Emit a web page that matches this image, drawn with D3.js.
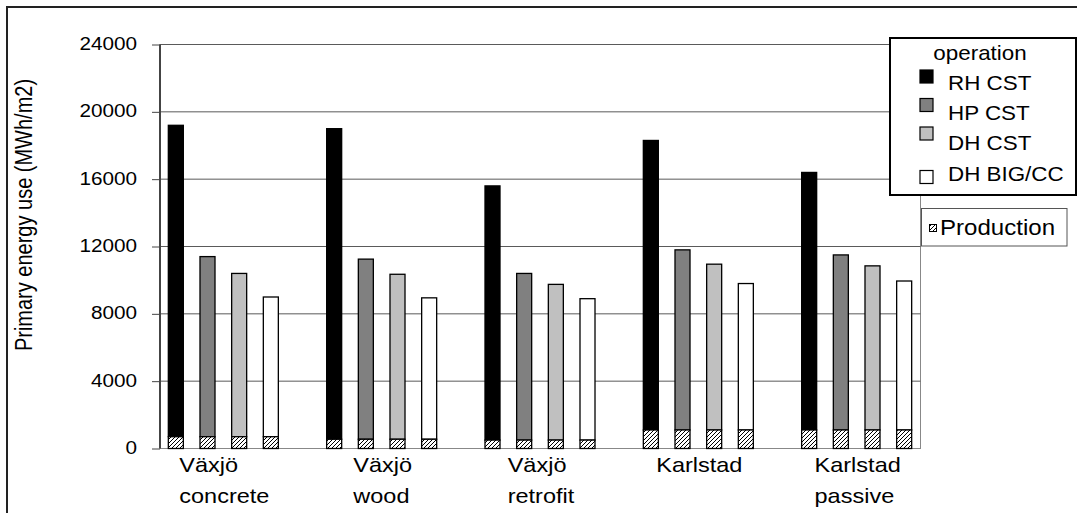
<!DOCTYPE html>
<html>
<head>
<meta charset="utf-8">
<script src="https://cdn.jsdelivr.net/npm/d3@7"></script>
<style>
  html, body { margin: 0; padding: 0; background: #fff; }
  svg { display: block; font-family: "Liberation Sans", Arial, sans-serif; }
</style>
</head>
<body>
<svg id="chart" width="1077" height="513"></svg>
<script>
// ---- data ----
const groupLabels = [["Växjö", "concrete"], ["Växjö", "wood"], ["Växjö", "retrofit"], ["Karlstad"], ["Karlstad", "passive"]];
const seriesNames = ["RH CST", "HP CST", "DH CST", "DH BIG/CC"];
const seriesColors = ["#000000", "#808080", "#c0c0c0", "#ffffff"];
const production = [700, 550, 500, 1100, 1100];
const rhCST = [18500, 18450, 15100, 17200, 15300];
const hpCST = [10700, 10700, 9900, 10700, 10400];
const dhCST = [9700, 9800, 9250, 9850, 9750];
const dhBIG = [8300, 8400, 8400, 8700, 8850];
const operation = [rhCST, hpCST, dhCST, dhBIG];
const yTicks = [0, 4000, 8000, 12000, 16000, 20000, 24000];
const yTitle = "Primary energy use (MWh/m2)";
const legendTitle = "operation";
const productionLabel = "Production";

(function () {
// ---- layout ----
const svg = d3.select("#chart");
const SX = 1.12; // horizontal stretch of glyphs seen in the reference
const pL = 160, pR = 920, pT = 44.5, pB = 448.5;

// slots: 4 bars per group + a gap slot between groups
const slots = [];
groupLabels.forEach((g, gi) => {
  seriesNames.forEach((s, si) => slots.push(`g${gi}s${si}`));
  if (gi < groupLabels.length - 1) slots.push(`gap${gi}`);
});
const pIn = 0.526;
const x = d3.scaleBand().domain(slots).range([pL, pR]).paddingInner(pIn).paddingOuter(pIn / 2);
const y = d3.scaleLinear().domain([0, 24000]).range([pB, pT]);

const defs = svg.append("defs");
const pat = defs.append("pattern").attr("id", "hatch").attr("patternUnits", "userSpaceOnUse")
  .attr("width", 4).attr("height", 4);
pat.append("rect").attr("width", 4).attr("height", 4).attr("fill", "#fff");
pat.append("path").attr("d", "M-1,1 l2,-2 M0,4 l4,-4 M3,5 l2,-2").attr("stroke", "#000").attr("stroke-width", 1);

// outer frame
svg.append("rect").attr("x", 7).attr("y", 7).attr("width", 1100).attr("height", 540)
  .attr("fill", "#fff").attr("stroke", "#222").attr("stroke-width", 2);

// plot area border
svg.append("rect").attr("x", pL).attr("y", pT).attr("width", pR - pL + 0.5).attr("height", pB - pT)
  .attr("fill", "none").attr("stroke", "#888").attr("stroke-width", 1);

// gridlines
svg.append("g").selectAll("line").data(yTicks.filter(d => d > 0)).join("line")
  .attr("x1", pL).attr("x2", pR + 0.5)
  .attr("y1", d => y(d)).attr("y2", d => y(d))
  .attr("stroke", "#5a5a5a").attr("stroke-width", 1);

// bottom axis line
svg.append("line").attr("x1", pL).attr("x2", pR + 0.5).attr("y1", y(0)).attr("y2", y(0))
  .attr("stroke", "#888").attr("stroke-width", 1);

// y axis via d3.axisLeft
const yAxis = svg.append("g").attr("transform", `translate(${pL},0)`)
  .call(d3.axisLeft(y).tickValues(yTicks).tickSize(8).tickPadding(0).tickFormat(d3.format("d")));
yAxis.select(".domain").attr("stroke", "#444").attr("stroke-width", 2).attr("d", `M0,${pT}V${pB}`);
yAxis.selectAll(".tick line").attr("stroke", "#444").attr("stroke-width", 1);
yAxis.selectAll(".tick text").remove();
yAxis.selectAll(".tick").append("g")
  .attr("transform", `translate(-23,5) scale(${SX},1)`)
  .append("text").attr("text-anchor", "end").attr("font-size", 18.5).attr("fill", "#000")
  .text(d => d3.format("d")(d));

// y title
svg.append("g").attr("transform", `translate(32,215) scale(1.15,1) rotate(-90)`)
  .append("text").attr("text-anchor", "middle").attr("font-size", 20).attr("fill", "#000").text(yTitle);

// bars
const bars = [];
groupLabels.forEach((g, gi) => {
  seriesNames.forEach((s, si) => {
    bars.push({ key: `g${gi}s${si}`, gi, si, prod: production[gi], op: operation[si][gi] });
  });
});
const barG = svg.append("g");
barG.selectAll("rect.op").data(bars).join("rect").attr("class", "op")
  .attr("x", d => x(d.key)).attr("width", x.bandwidth())
  .attr("y", d => y(d.prod + d.op)).attr("height", d => y(d.prod) - y(d.prod + d.op))
  .attr("fill", d => seriesColors[d.si]).attr("stroke", "#000").attr("stroke-width", 1.3);
barG.selectAll("rect.prod").data(bars).join("rect").attr("class", "prod")
  .attr("x", d => x(d.key)).attr("width", x.bandwidth())
  .attr("y", d => y(d.prod)).attr("height", d => y(0) - y(d.prod))
  .attr("fill", "url(#hatch)").attr("stroke", "#000").attr("stroke-width", 1.3);

// category labels
groupLabels.forEach((lines, gi) => {
  const c0 = x(`g${gi}s0`), c3 = x(`g${gi}s3`) + x.bandwidth();
  const cx = (c0 + c3) / 2 + 1;
  const g = svg.append("g");
  const texts = lines.map((t, li) => g.append("g")
    .attr("transform", `translate(0,${472 + li * 31}) scale(${SX},1)`)
    .append("text").attr("font-size", 21).attr("fill", "#000").text(t));
  const w = d3.max(texts, t => t.node().getComputedTextLength()) * SX;
  g.attr("transform", `translate(${cx - w / 2},0)`);
});

// legend 1
const lg = svg.append("g");
lg.append("rect").attr("x", 890).attr("y", 38).attr("width", 186).attr("height", 157)
  .attr("fill", "#fff").attr("stroke", "#000").attr("stroke-width", 2);
lg.append("g").attr("transform", `translate(980,60) scale(${SX},1)`)
  .append("text").attr("text-anchor", "middle").attr("font-size", 20).text(legendTitle);
const swY = [70, 98.5, 127, 170.5];
const txY = [90, 120, 150, 181];
seriesNames.forEach((s, i) => {
  lg.append("rect").attr("x", 920).attr("y", swY[i]).attr("width", 13).attr("height", 13)
    .attr("fill", seriesColors[i]).attr("stroke", "#000").attr("stroke-width", 1.2);
  lg.append("g").attr("transform", `translate(948,${txY[i]}) scale(${SX},1)`)
    .append("text").attr("font-size", 20).text(s);
});

// legend 2
const lg2 = svg.append("g");
lg2.append("rect").attr("x", 921.5).attr("y", 208.5).attr("width", 145.5).attr("height", 37.5)
  .attr("fill", "#fff").attr("stroke", "#555").attr("stroke-width", 1);
lg2.append("rect").attr("x", 929.5).attr("y", 224.5).attr("width", 7).attr("height", 7)
  .attr("fill", "url(#hatch)").attr("stroke", "#000").attr("stroke-width", 1);
lg2.append("g").attr("transform", `translate(940,235) scale(${SX},1)`)
  .append("text").attr("font-size", 21.5).text(productionLabel);
})();
</script>
</body>
</html>
